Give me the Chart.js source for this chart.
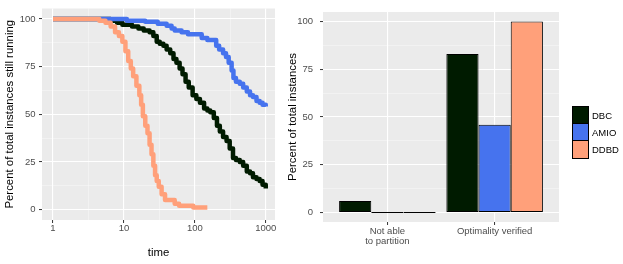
<!DOCTYPE html>
<html>
<head>
<meta charset="utf-8">
<script src="https://cdn.jsdelivr.net/npm/chart.js@4.4.1/dist/chart.umd.min.js"></script>
<style>
  html, body { margin: 0; padding: 0; background: #fff; }
  #wrap { position: relative; width: 623px; height: 264px; }
  #survival { position: absolute; left: 0; top: 0; }
  #outcome { position: absolute; left: 280px; top: 0; }
  #legend { position: absolute; left: 572px; top: 107px; font: 9.5px "Liberation Sans", Arial, sans-serif; color: #000; }
  .key { display: flex; align-items: center; height: 18px; margin-top: -1px; }
  .swatch { width: 17px; height: 19px; box-sizing: border-box; border: 1px solid #000; margin-right: 3px; }
</style>
</head>
<body>
<div id="wrap">
  <canvas id="survival" width="280" height="264"></canvas>
  <canvas id="outcome" width="343" height="264"></canvas>
  <div id="legend"></div>
</div>
<script>
// #region [01] Data
const methods = ['DBC', 'AMIO', 'DDBD'];
const methodColors = ['#001b00', '#4673ee', '#ffa07a'];

// survival curves: time (log axis) vs percent still running
const dbcTime = [1, 5.5, 6.5, 8, 9.5, 13, 16, 19, 23, 26, 29, 32, 36, 40, 45, 50, 55, 61, 67, 74, 82, 93, 105, 118, 135, 150, 165, 185, 205, 225, 250, 280, 310, 345, 380, 430, 480, 540, 600, 660, 740, 820, 900, 1000];
const dbcRunning = [100, 100, 99, 98, 97, 96, 95, 94, 93, 91, 88, 87, 86, 84, 82, 79, 77, 74, 71, 67, 64, 60, 58, 56, 53, 52, 51, 48, 44, 41, 38, 36, 32, 27, 26, 25, 23, 20, 19, 17, 16, 15, 13, 11];

const amioTime = [1, 9, 11, 20, 30, 40, 47, 52, 65, 80, 110, 125, 150, 185, 200, 220, 250, 275, 300, 330, 350, 380, 430, 480, 540, 600, 660, 740, 820, 900, 1000];
const amioRunning = [100, 100, 99, 98.5, 97.5, 96.5, 95, 94, 93, 92, 92, 90, 89, 89, 86, 84, 82, 80, 77, 73, 69, 67, 66, 64, 62, 60, 59, 57, 56, 55, 54];

const ddbdTime = [1, 3.5, 4.5, 5.5, 6.5, 7.5, 8.5, 9.5, 10.5, 11.5, 12.5, 13.5, 15, 16.5, 17.5, 18.5, 20, 21.5, 23, 24.5, 26, 27.5, 29, 31, 34, 38, 52, 60, 95, 150];
const ddbdRunning = [100, 100, 99, 98, 96, 93, 91, 88, 83, 78, 74, 70, 65, 60, 55, 49, 44, 40, 34, 29, 23, 18, 15, 12, 8, 5, 3, 2, 1, 1];

// outcome bars
const outcomeCats = [['Not able', 'to partition'], 'Optimality verified'];
const dbcOutcome = [6, 83];
const amioOutcome = [0, 46];
const ddbdOutcome = [0, 100];

// axis breaks
const timeTicks = [1, 10, 100, 1000];
const timeMinor = [3.1623, 31.623, 316.23];
const pctTicks = [0, 25, 50, 75, 100];
const pctMinor = [12.5, 37.5, 62.5, 87.5];
// #endregion

// #region [02] Shared styling
Chart.defaults.font.family = '"Liberation Sans", Arial, sans-serif';
const tickFont = { size: 9.5, lineHeight: 1.05 };
const titleFont = { size: 11.4 };

const panelBg = {
    id: 'panelBg',
    beforeDraw(chart) {
        const { ctx, chartArea: a } = chart;
        ctx.save();
        ctx.fillStyle = '#ebebeb';
        ctx.fillRect(a.left, a.top, a.right - a.left, a.bottom - a.top);
        ctx.restore();
    }
};

function gridOpts(majors) {
    const isMajor = c => c.tick && majors.includes(c.tick.value);
    return {
        color: c => isMajor(c) ? '#ffffff' : 'rgba(255,255,255,0.6)',
        lineWidth: c => isMajor(c) ? 1.1 : 0.6,
        tickColor: c => isMajor(c) ? '#333333' : 'rgba(0,0,0,0)',
        tickLength: 3,
        tickWidth: 1
    };
}

function setTicks(majors, minors) {
    const all = majors.concat(minors).sort((a, b) => a - b);
    return s => { s.ticks = all.map(v => ({ value: v })); };
}

const baseOptions = {
    responsive: false,
    animation: false,
    devicePixelRatio: 1,
    plugins: { legend: { display: false }, tooltip: { enabled: false } }
};
// #endregion

// #region [03] Survival panel
const survivalSeries = [[dbcTime, dbcRunning], [amioTime, amioRunning], [ddbdTime, ddbdRunning]];

new Chart(document.getElementById('survival'), {
    type: 'line',
    data: {
        datasets: methods.map((m, i) => ({
            label: m,
            data: survivalSeries[i][0].map((t, j) => ({ x: t, y: survivalSeries[i][1][j] })),
            borderColor: methodColors[i],
            borderWidth: 4.5,
            borderJoinStyle: 'round',
            stepped: true,
            pointRadius: 0,
            fill: false,
            order: methods.length - 1 - i
        }))
    },
    options: {
        ...baseOptions,
        layout: { padding: { top: 5, right: 5, left: 0, bottom: 0 } },
        scales: {
            x: {
                type: 'logarithmic',
                min: 0.708,
                max: 1349,
                afterBuildTicks: setTicks(timeTicks, timeMinor),
                afterFit: s => { s.height = 44; },
                ticks: {
                    callback: v => timeTicks.includes(v) ? String(v) : '',
                    autoSkip: false, maxRotation: 0, padding: 0.5,
                    color: '#4d4d4d', font: tickFont
                },
                grid: gridOpts(timeTicks),
                border: { display: false },
                title: { display: true, text: 'time', color: '#000', font: titleFont, padding: { top: 0, bottom: 4 } }
            },
            y: {
                min: -5.5,
                max: 105.5,
                afterBuildTicks: setTicks(pctTicks, pctMinor),
                afterFit: s => { s.width = 42; },
                ticks: {
                    callback: v => pctTicks.includes(v) ? String(v) : '',
                    autoSkip: false, padding: 3.5,
                    color: '#4d4d4d', font: tickFont
                },
                grid: gridOpts(pctTicks),
                border: { display: false },
                title: { display: true, text: 'Percent of total instances still running', color: '#000', font: titleFont, padding: { top: 3, bottom: 0 } }
            }
        }
    },
    plugins: [panelBg]
});
// #endregion

// #region [04] Outcome panel
const outcomeSeries = [dbcOutcome, amioOutcome, ddbdOutcome];
const catPos = outcomeCats.map((c, j) => j + 1);

new Chart(document.getElementById('outcome'), {
    type: 'bar',
    data: {
        datasets: methods.map((m, i) => ({
            label: m,
            data: catPos.map((x, j) => ({ x: x, y: outcomeSeries[i][j] })),
            backgroundColor: methodColors[i],
            borderColor: '#000000',
            borderWidth: 1,
            borderSkipped: false,
            minBarLength: 1,
            categoryPercentage: 0.9,
            barPercentage: 1
        }))
    },
    options: {
        ...baseOptions,
        layout: { padding: { top: 5, right: 64, left: 0, bottom: 0 } },
        scales: {
            x: {
                type: 'linear',
                min: 0.4,
                max: 2.6,
                offset: false,
                afterBuildTicks: setTicks(catPos, []),
                afterFit: s => { s.height = 42; },
                ticks: {
                    callback: v => outcomeCats[v - 1],
                    autoSkip: false, maxRotation: 0, padding: 1.5,
                    color: '#4d4d4d', font: tickFont
                },
                grid: { ...gridOpts(catPos), offset: false },
                border: { display: false }
            },
            y: {
                min: -5,
                max: 105,
                afterBuildTicks: setTicks(pctTicks, pctMinor),
                afterFit: s => { s.width = 43; },
                ticks: {
                    callback: v => pctTicks.includes(v) ? String(v) : '',
                    autoSkip: false, padding: 7,
                    color: '#4d4d4d', font: tickFont
                },
                grid: gridOpts(pctTicks),
                border: { display: false },
                title: { display: true, text: 'Percent of total instances', color: '#000', font: titleFont, padding: { top: 6, bottom: 0 } }
            }
        }
    },
    plugins: [panelBg]
});
// #endregion

// #region [05] Legend
const legendEl = document.getElementById('legend');
methods.forEach((m, i) => {
    const row = document.createElement('div');
    row.className = 'key';
    const sw = document.createElement('div');
    sw.className = 'swatch';
    sw.style.background = methodColors[i];
    const label = document.createElement('span');
    label.textContent = m;
    row.appendChild(sw);
    row.appendChild(label);
    legendEl.appendChild(row);
});
// #endregion
</script>
</body>
</html>
